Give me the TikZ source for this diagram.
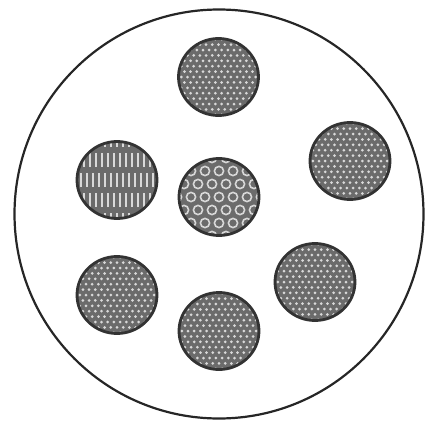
\documentclass[tikz,border=0pt]{standalone}
\usetikzlibrary{shapes.geometric}
\begin{document}
\begin{tikzpicture}[x=1pt,y=-1pt,
  strand/.style={ellipse, draw=black!80, line width=2.8pt, fill=black!58,
    minimum width=80pt, minimum height=77pt, inner sep=0pt},
  dotfill/.style={path picture={
    \foreach \j in {-7,...,7}{\foreach \i in {-7,...,7}{
      \fill[white!85!black] ([shift={({\i*6.2pt+mod(\j,2)*3.1pt},{\j*5.4pt})}]path picture bounding box.center) circle (1.5pt);}}}},
  stripefill/.style={path picture={
    \foreach \j in {-2,...,2}{\foreach \i in {-7,...,7}{
      \draw[white!85!black, line width=1.6pt] ([shift={({\i*6pt+mod(\j,2)*3pt},{\j*20pt-7pt})}]path picture bounding box.center) -- ++(0pt,14pt);}}}},
  ringfill/.style={path picture={
    \foreach \j in {-3,...,3}{\foreach \i in {-3,...,3}{
      \draw[white!85!black, line width=1.6pt] ([shift={({\i*14pt+mod(\j,2)*7pt},{\j*13pt})}]path picture bounding box.center) circle (4.6pt);}}}}
]
\useasboundingbox (0,0) rectangle (429,424);
\node[circle, draw=black!85, line width=2.2pt, minimum size=409pt, inner sep=0pt] (outer) at (219,214) {};
\node[strand, dotfill] (top) at (218.5,77) {};
\node[strand, dotfill] (right) at (350,161) {};
\node[strand, stripefill] (left) at (117,180) {};
\node[strand, ringfill] (center) at (219,197) {};
\node[strand, dotfill] (botleft) at (117,295) {};
\node[strand, dotfill] (bottom) at (219,331) {};
\node[strand, dotfill] (botright) at (315,282) {};
\end{tikzpicture}
\end{document}
